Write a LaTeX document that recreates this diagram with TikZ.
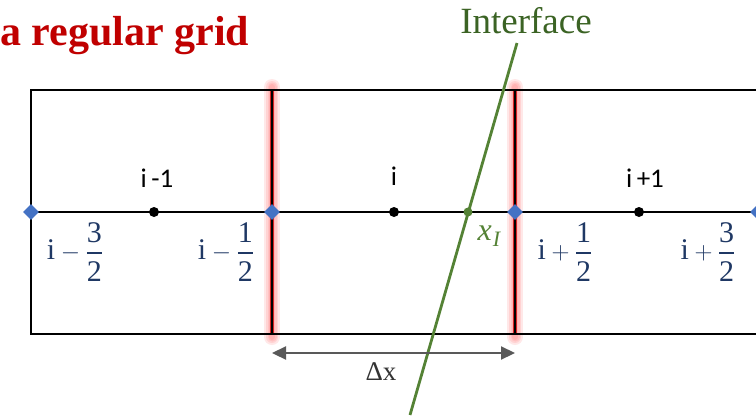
\documentclass[tikz,border=0pt]{standalone}
\usepackage{amsmath}
\usepackage{fontspec}
\setmainfont{Liberation Serif}
\newfontfamily\calfont{Carlito}
\usetikzlibrary{shapes.geometric,arrows.meta}
\definecolor{titlered}{HTML}{C00000}
\definecolor{navy}{HTML}{1F3864}
\definecolor{igreen}{HTML}{548235}
\definecolor{dgreen}{HTML}{3B6324}
\definecolor{dgray}{HTML}{595959}
\definecolor{fblue}{HTML}{4472C4}
\newcommand{\facelab}[3]{$\hbox{i}#1\genfrac{}{}{2.4pt}{0}{\hbox{#2}}{\hbox{#3}}$}
\tikzset{
  gridline/.style={line width=2pt, black},
  facept/.style={diamond, fill=fblue, inner sep=0pt, minimum size=16pt},
  cellpt/.style={circle, fill=black, inner sep=0pt, minimum size=10pt},
  ipt/.style={circle, fill=igreen, inner sep=0pt, minimum size=9pt},
  glow/.style={line width=#1, red!70, opacity=0.13, line cap=round},
  idx/.style={font=\calfont\fontsize{27}{30}\selectfont},
  flab/.style={text=navy, font=\fontsize{30}{34}\selectfont},
}
\begin{document}
\begin{tikzpicture}[x=1pt,y=-1pt]
\useasboundingbox (0,0) rectangle (756,416);
% title
\node[anchor=base west, text=titlered, font=\bfseries\fontsize{42}{48}\selectfont, inner sep=0pt] (title) at (0,45) {a regular grid};
% coordinates
\coordinate (tl) at (31,90);
\coordinate (bl) at (31,334);
\coordinate (tr) at (756,90);
\coordinate (br) at (756,334);
\coordinate (f1t) at (272,90);
\coordinate (f1b) at (272,334);
\coordinate (f2t) at (515,90);
\coordinate (f2b) at (515,334);
% glow of faces
\foreach \w in {16,12,9,6}{
  \draw[glow=\w pt] (272,87) -- (272,337);
  \draw[glow=\w pt] (515,87) -- (515,337);
}
\draw[line width=4pt, red!80!black, opacity=0.8] (f1t) -- (f1b);
\draw[line width=4pt, red!80!black, opacity=0.8] (f2t) -- (f2b);
% grid lines
\draw[gridline] (tr) -- (tl) -- (bl) -- (br);
\draw[gridline] (f1t) -- (f1b);
\draw[gridline] (f2t) -- (f2b);
% center line
\coordinate (cl) at (31,212);
\coordinate (cr) at (756,212);
\draw[line width=1.6pt] (cl) -- (cr);
% points
\node[facept] (d0) at (31,212) {};
\node[facept] (d1) at (272,212) {};
\node[facept] (d2) at (515,212) {};
\node[facept] (d3) at (758,212) {};
\node[cellpt] (c0) at (154,212) {};
\node[cellpt] (c1) at (394,212) {};
\node[cellpt] (c2) at (639,212) {};
% interface
\coordinate (it) at (517,43);
\coordinate (ib) at (410,415);
\draw[igreen, line width=2.8pt] (it) -- (ib);
\node[ipt] (xi) at (468,212) {};
\node[text=dgreen, font=\fontsize{37}{42}\selectfont] (itext) at (526,21) {Interface};
\node[text=igreen, font=\fontsize{32}{36}\selectfont] (xilab) at (489,236) {\itshape x\kern1pt\raisebox{-6pt}{\fontsize{22}{24}\selectfont I}};
% index labels
\node[idx] (lm1) at (157,178) {i\,-1};
\node[idx] (l0) at (394,176) {i};
\node[idx] (lp1) at (645,178) {i\,+1};
\node[flab] (fm32) at (75,252) {\facelab{-}{3}{2}};
\node[flab] (fm12) at (226,252) {\facelab{-}{1}{2}};
\node[flab] (fp12) at (565,252) {\facelab{+}{1}{2}};
\node[flab] (fp32) at (708,252) {\facelab{+}{3}{2}};
% dx arrow
\coordinate (a1) at (272,353);
\coordinate (a2) at (515,353);
\draw[dgray, line width=2.2pt, {Triangle[length=14pt,width=13pt]}-{Triangle[length=14pt,width=13pt]}] (a1) -- (a2);
\node[text=black!80, font=\fontsize{27}{30}\selectfont] (dx) at (381,372) {Δx};
\end{tikzpicture}
\end{document}
